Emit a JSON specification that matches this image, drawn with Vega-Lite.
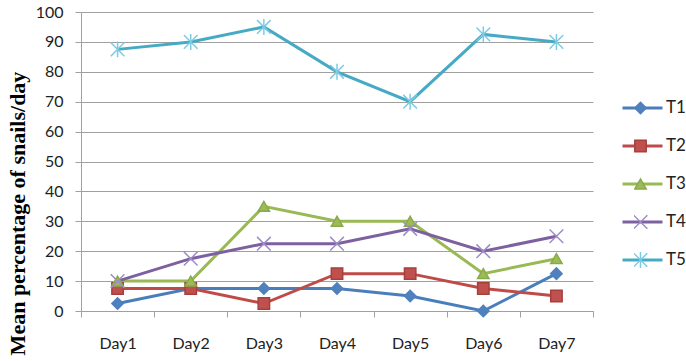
{
  "$schema": "https://vega.github.io/schema/vega-lite/v6.json",
  "width": 512,
  "height": 299,
  "autosize": {"type": "none"},
  "padding": {"left": 81, "top": 12, "right": 93, "bottom": 50},
  "background": "white",
  "view": {"stroke": null},
  "config": {"font": "Lato"},
  "data": {
    "values": [
      {"day": "Day1", "series": "T1", "value": 2.5},
      {"day": "Day2", "series": "T1", "value": 7.5},
      {"day": "Day3", "series": "T1", "value": 7.5},
      {"day": "Day4", "series": "T1", "value": 7.5},
      {"day": "Day5", "series": "T1", "value": 5},
      {"day": "Day6", "series": "T1", "value": 0},
      {"day": "Day7", "series": "T1", "value": 12.5},
      {"day": "Day1", "series": "T2", "value": 7.5},
      {"day": "Day2", "series": "T2", "value": 7.5},
      {"day": "Day3", "series": "T2", "value": 2.5},
      {"day": "Day4", "series": "T2", "value": 12.5},
      {"day": "Day5", "series": "T2", "value": 12.5},
      {"day": "Day6", "series": "T2", "value": 7.5},
      {"day": "Day7", "series": "T2", "value": 5},
      {"day": "Day1", "series": "T3", "value": 10},
      {"day": "Day2", "series": "T3", "value": 10},
      {"day": "Day3", "series": "T3", "value": 35},
      {"day": "Day4", "series": "T3", "value": 30},
      {"day": "Day5", "series": "T3", "value": 30},
      {"day": "Day6", "series": "T3", "value": 12.5},
      {"day": "Day7", "series": "T3", "value": 17.5},
      {"day": "Day1", "series": "T4", "value": 10},
      {"day": "Day2", "series": "T4", "value": 17.5},
      {"day": "Day3", "series": "T4", "value": 22.5},
      {"day": "Day4", "series": "T4", "value": 22.5},
      {"day": "Day5", "series": "T4", "value": 27.5},
      {"day": "Day6", "series": "T4", "value": 20},
      {"day": "Day7", "series": "T4", "value": 25},
      {"day": "Day1", "series": "T5", "value": 87.5},
      {"day": "Day2", "series": "T5", "value": 90},
      {"day": "Day3", "series": "T5", "value": 95},
      {"day": "Day4", "series": "T5", "value": 80},
      {"day": "Day5", "series": "T5", "value": 70},
      {"day": "Day6", "series": "T5", "value": 92.5},
      {"day": "Day7", "series": "T5", "value": 90}
    ]
  },
  "encoding": {
    "x": {
      "field": "day",
      "type": "nominal",
      "scale": {"type": "band", "paddingInner": 0, "paddingOuter": 0},
      "axis": {
        "title": null,
        "labelAngle": 0,
        "labelFont": "Lato",
        "labelFontSize": 16,
        "labelColor": "#222222",
        "labelPadding": 18,
        "tickSize": 6,
        "tickBand": "extent",
        "tickColor": "#a0a0a0",
        "domainColor": "#a0a0a0",
        "grid": false
      }
    },
    "y": {
      "field": "value",
      "type": "quantitative",
      "scale": {"domain": [0, 100], "nice": false},
      "axis": {
        "values": [0, 10, 20, 30, 40, 50, 60, 70, 80, 90, 100],
        "title": "Mean percentage of snails/day",
        "titleFont": "Liberation Serif",
        "titleFontWeight": "bold",
        "titleFontSize": 22,
        "titleColor": "#000000",
        "titleX": -64,
        "titleY": 201,
        "titleAngle": -90,
        "titleAlign": "center",
        "titleBaseline": "middle",
        "labelFont": "Lato",
        "labelFontSize": 16,
        "labelColor": "#222222",
        "labelPadding": 12,
        "tickSize": 6,
        "tickColor": "#a0a0a0",
        "domainColor": "#a0a0a0",
        "gridColor": "#a0a0a0",
        "grid": true
      }
    }
  },
  "layer": [
    {
      "mark": {"type": "line", "strokeWidth": 3},
      "encoding": {
        "color": {
          "field": "series",
          "type": "nominal",
          "scale": {
            "domain": ["T1", "T2", "T3", "T4", "T5"],
            "range": ["#4a7ebb", "#be4b48", "#98b954", "#7d60a0", "#46aac5"]
          },
          "legend": {
            "orient": "none",
            "legendX": 540,
            "legendY": 77,
            "title": null,
            "symbolType": "stroke",
            "symbolSize": 1600,
            "symbolStrokeWidth": 3,
            "clipHeight": 38,
            "rowPadding": 0,
            "labelFont": "Lato",
            "labelFontSize": 17,
            "labelColor": "#222222",
            "labelOffset": 2,
            "padding": 0
          }
        }
      }
    },
    {
      "mark": {"type": "point", "filled": true, "size": 130, "strokeWidth": 1.5, "opacity": 1},
      "encoding": {
        "shape": {
          "field": "series",
          "type": "nominal",
          "scale": {
            "range": ["diamond", "square", "triangle-up", "M-1.2,-1.2L1.2,1.2M-1.2,1.2L1.2,-1.2", "M-1.2,-1.2L1.2,1.2M-1.2,1.2L1.2,-1.2M0,-1.4L0,1.4"]
          },
          "legend": {
            "orient": "none",
            "legendX": 553,
            "legendY": 77,
            "title": null,
            "symbolSize": 130,
            "symbolStrokeWidth": 1.5,
            "clipHeight": 38,
            "rowPadding": 0,
            "labelExpr": "''",
            "padding": 0
          }
        },
        "fill": {
          "field": "series",
          "type": "nominal",
          "scale": {"range": ["#4f81bd", "#c0504d", "#9bbb59", "#9d8cc6", "#7dcbe3"]}
        },
        "stroke": {
          "field": "series",
          "type": "nominal",
          "scale": {"range": ["#4f81bd", "#a5403d", "#8aaa4a", "#9d8cc6", "#7dcbe3"]}
        }
      }
    }
  ]
}
